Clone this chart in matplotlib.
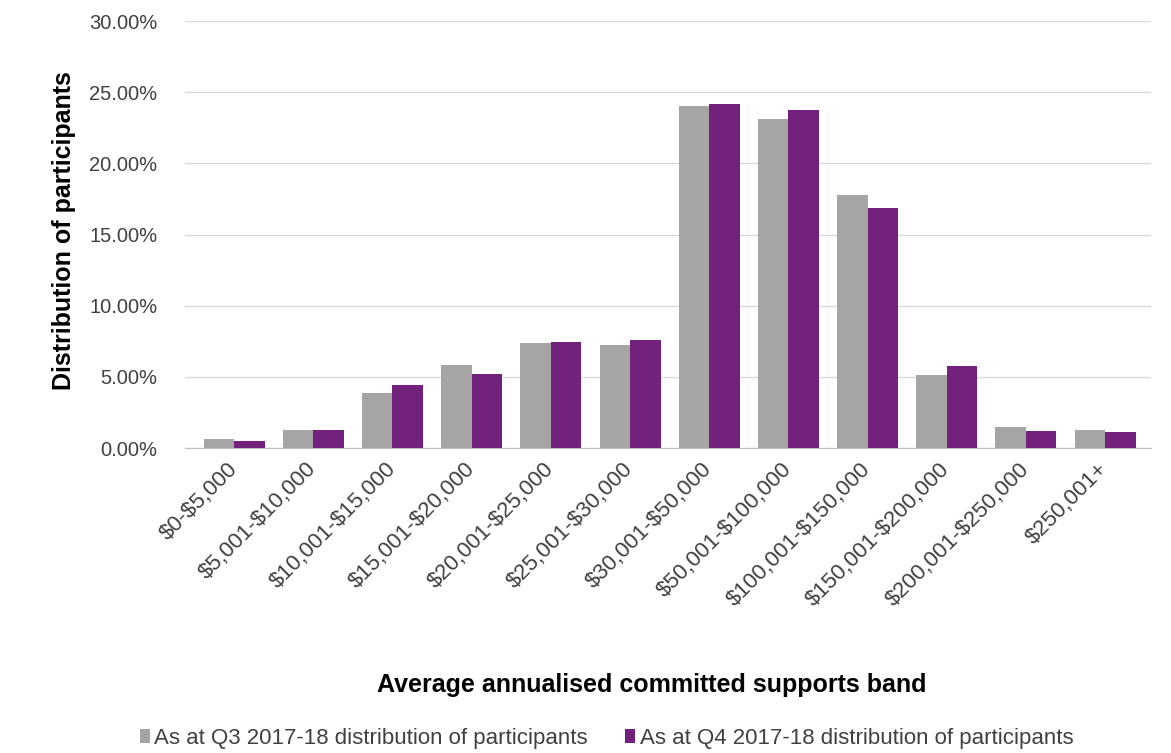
import matplotlib
matplotlib.use("Agg")
import matplotlib.pyplot as plt
import numpy as np
from matplotlib.ticker import FuncFormatter

plt.rcParams['font.family'] = ['Liberation Sans', 'DejaVu Sans']
plt.rcParams['text.parse_math'] = False

categories = ["$0-$5,000", "$5,001-$10,000", "$10,001-$15,000", "$15,001-$20,000",
              "$20,001-$25,000", "$25,001-$30,000", "$30,001-$50,000", "$50,001-$100,000",
              "$100,001-$150,000", "$150,001-$200,000", "$200,001-$250,000", "$250,001+"]
q3_values = [0.60, 1.30, 3.90, 5.80, 7.40, 7.25, 24.00, 23.10, 17.80, 5.13, 1.50, 1.26]
q4_values = [0.50, 1.25, 4.40, 5.20, 7.45, 7.60, 24.15, 23.75, 16.90, 5.76, 1.20, 1.10]
series_names = ["As at Q3 2017-18 distribution of participants",
                "As at Q4 2017-18 distribution of participants"]

fig = plt.figure(figsize=(11.71, 7.53), dpi=100)
ax = fig.add_axes([0.158, 0.405, 0.825, 0.567])

x = np.arange(len(categories))
w = 0.385
ax.bar(x - w/2, q3_values, w, color="#A5A5A5", label=series_names[0], zorder=3)
ax.bar(x + w/2, q4_values, w, color="#72217C", label=series_names[1], zorder=3)

ax.set_ylim(0, 30)
ax.set_yticks(np.arange(0, 30.1, 5))
ax.yaxis.set_major_formatter(FuncFormatter(lambda v, p: f"{v:.2f}%"))
ax.set_xlim(-0.62, len(categories) - 0.42)
ax.grid(axis='y', color="#D9D9D9", linewidth=1, zorder=0)
for s in ['top', 'right', 'left']:
    ax.spines[s].set_visible(False)
ax.spines['bottom'].set_color("#BFBFBF")
ax.tick_params(axis='y', length=0, labelsize=14.5, colors="#404040", pad=20)
ax.set_xticks(x)
ax.set_xticklabels(categories, rotation=45, ha='right', va='center', rotation_mode='anchor')
ax.tick_params(axis='x', length=0, labelsize=16, colors="#404040", pad=13)

ax.set_ylabel("Distribution of participants", fontsize=18, fontweight='bold', color='black')
ax.yaxis.set_label_coords(-0.113, 0.51)
ax.set_xlabel("Average annualised committed supports band", fontsize=18, fontweight='bold', color='black')
ax.xaxis.set_label_coords(0.483, -0.527)

leg = fig.legend(loc='center', bbox_to_anchor=(0.518, 0.019), ncol=2, frameon=False,
                 fontsize=16, handlelength=0.45, handleheight=0.6, handletextpad=0.2,
                 columnspacing=1.7, borderpad=0.0, borderaxespad=0.0)
for t in leg.get_texts():
    t.set_color("#404040")

fig.savefig("out.png", dpi=100)
